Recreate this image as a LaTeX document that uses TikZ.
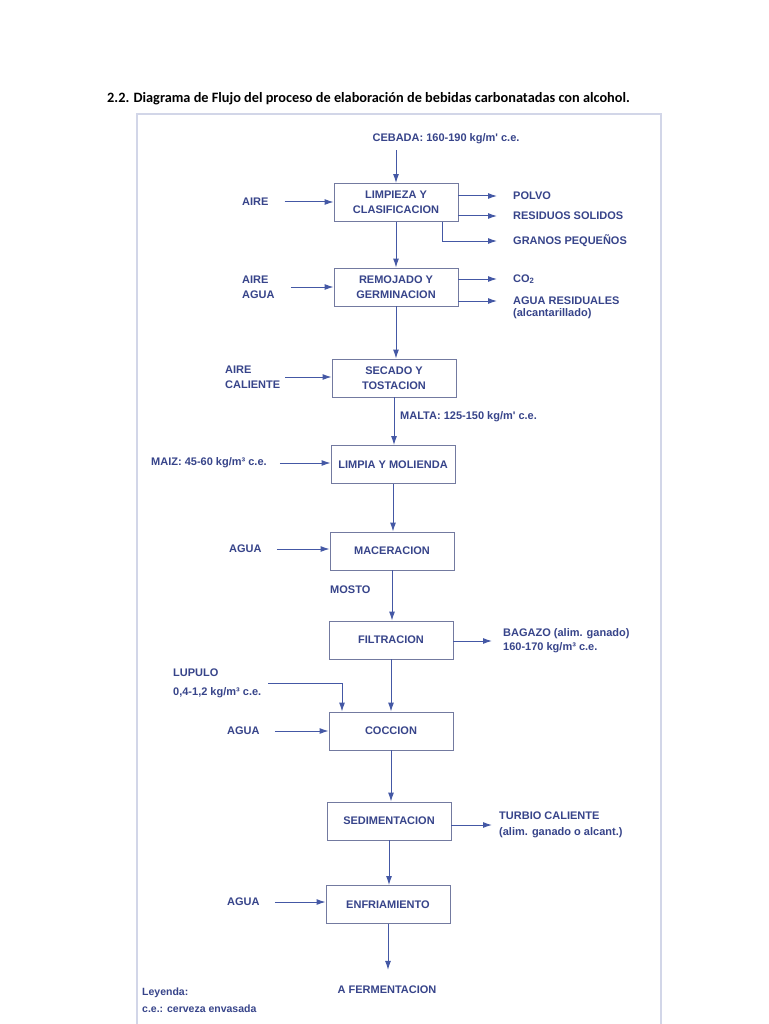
\documentclass[tikz,border=0pt]{standalone}
\usepackage{fontspec}
\setmainfont{Carlito}
\newfontfamily\labfam{Liberation Sans}
\usetikzlibrary{arrows.meta}
\definecolor{txtc}{RGB}{55,68,138}
\definecolor{linec}{RGB}{68,88,165}
\definecolor{boxc}{RGB}{115,122,160}
\definecolor{framec}{RGB}{210,214,232}
\newcommand{\labf}{\labfam\bfseries\fontsize{11}{15}\selectfont}
\tikzset{
  procbox/.style={draw=boxc, line width=0.9pt, minimum width=124pt, minimum height=38pt,
    align=center, font=\labf, text=txtc, inner sep=1pt},
  lbl/.style={inner sep=0pt, font=\labf, text=txtc, align=left},
  arr/.style={draw=linec, line width=1pt, -{Latex[length=9pt,width=6pt]}},
}
\begin{document}
\begin{tikzpicture}[x=1pt,y=-1pt]
\useasboundingbox (0,0) rectangle (768,1024);
\fill[white] (0,0) rectangle (768,1024);
% frame of the scan
\draw[framec, line width=1.5pt] (137,1024) -- (137,114) -- (661,114) -- (661,1024);
% title
\node[anchor=west, inner sep=0pt, font=\bfseries\fontsize{14.3}{16}\selectfont] (title) at (107,99)
  {2.2. Diagrama de Flujo del proceso de elaboración de bebidas carbonatadas con alcohol.};

% process boxes
\node[procbox] (b1) at (396,202.5) {LIMPIEZA Y\\CLASIFICACION};
\node[procbox] (b2) at (396,287) {REMOJADO Y\\GERMINACION};
\node[procbox] (b3) at (394,378) {SECADO Y\\TOSTACION};
\node[procbox] (b4) at (393,464.5) {LIMPIA Y MOLIENDA};
\node[procbox] (b5) at (392,551) {MACERACION};
\node[procbox] (b6) at (391,640) {FILTRACION};
\node[procbox] (b7) at (391,731) {COCCION};
\node[procbox] (b8) at (389,821) {SEDIMENTACION};
\node[procbox] (b9) at (388,904.5) {ENFRIAMIENTO};

% labels
\node[lbl] (cebada) at (446,139) {CEBADA: 160-190 kg/m' c.e.};
\node[lbl, anchor=west] (aire1) at (242,202) {AIRE};
\node[lbl, anchor=west] (aire2) at (242,287) {AIRE\\AGUA};
\node[lbl, anchor=west] (aire3) at (225,377) {AIRE\\CALIENTE};
\node[lbl, anchor=west] (maiz) at (151,463) {MAIZ: 45-60 kg/m³ c.e.};
\node[lbl, anchor=west] (agua5) at (229,549) {AGUA};
\node[lbl, anchor=west, font=\labfam\bfseries\fontsize{11}{19}\selectfont] (lupulo) at (173,683) {LUPULO\\0,4-1,2 kg/m³ c.e.};
\node[lbl, anchor=west] (agua7) at (227,731) {AGUA};
\node[lbl, anchor=west] (agua9) at (227,902) {AGUA};

\node[lbl, anchor=west] (polvo) at (513,196) {POLVO};
\node[lbl, anchor=west] (residuos) at (513,216) {RESIDUOS SOLIDOS};
\node[lbl, anchor=west] (granos) at (513,241) {GRANOS PEQUEÑOS};
\node[lbl, anchor=west] (co2) at (513,279) {CO\textsubscript{2}};
\node[lbl, anchor=west] (aguares) at (513,301) {AGUA RESIDUALES};
\node[lbl, anchor=west] (alcant) at (513,314) {(alcantarillado)};
\node[lbl, anchor=west] (malta) at (400,417) {MALTA: 125-150 kg/m' c.e.};
\node[lbl, anchor=west] (mosto) at (330,590) {MOSTO};
\node[lbl, anchor=west, font=\labfam\bfseries\fontsize{11}{14}\selectfont] (bagazo) at (503,641) {BAGAZO (alim. ganado)\\160-170 kg/m³ c.e.};
\node[lbl, anchor=west, font=\labfam\bfseries\fontsize{11}{16}\selectfont] (turbio) at (499,825) {TURBIO CALIENTE\\(alim. ganado o alcant.)};
\node[lbl] (ferm) at (387,990) {A FERMENTACION};
\node[lbl, anchor=west, font=\labfam\bfseries\fontsize{10.5}{17}\selectfont] (leyenda) at (142,1000) {Leyenda:\\c.e.: cerveza envasada};

% main flow
\draw[arr, shorten <=6pt] (cebada.south -| b1.north) -- (b1.north);
\draw[arr] (b1.south) -- (b1.south |- b2.north);
\draw[arr] (b2.south) -- (b2.south |- b3.north);
\draw[arr] (b3.south) -- (b3.south |- b4.north);
\draw[arr] (b4.south) -- (b4.south |- b5.north);
\draw[arr] (b5.south) -- (b5.south |- b6.north);
\draw[arr] (b6.south) -- (b6.south |- b7.north);
\draw[arr] (b7.south) -- (b7.south |- b8.north);
\draw[arr] (b8.south) -- (b8.south |- b9.north);
\draw[arr, shorten >=16pt] (b9.south) -- (b9.south |- ferm.north);

% inputs
\draw[arr, shorten <=16pt] (aire1.east) -- (aire1.east -| b1.west);
\draw[arr, shorten <=16pt] (aire2.east) -- (aire2.east -| b2.west);
\draw[arr, shorten <=5pt] (aire3.east) -- (aire3.east -| b3.west);
\draw[arr, shorten <=13pt] (maiz.east) -- (maiz.east -| b4.west);
\draw[arr, shorten <=15pt] (agua5.east) -- (agua5.east -| b5.west);
\draw[arr, shorten <=7pt] (lupulo.east) -| ([xshift=-49pt]b7.north);
\draw[arr, shorten <=15pt] (agua7.east) -- (agua7.east -| b7.west);
\draw[arr, shorten <=15pt] (agua9.east) -- (agua9.east -| b9.west);

% outputs
\draw[arr, shorten >=16pt] (b1.east |- polvo) -- (polvo.west);
\draw[arr, shorten >=16pt] (b1.east |- residuos) -- (residuos.west);
\draw[arr, shorten >=16pt] ([xshift=-16pt]b1.south east) |- (granos.west);
\draw[arr, shorten >=16pt] (b2.east |- co2) -- (co2.west);
\draw[arr, shorten >=16pt] (b2.east |- aguares) -- (aguares.west);
\draw[arr, shorten >=11pt] (b6.east |- bagazo) -- (bagazo.west);
\draw[arr, shorten >=7pt] (b8.east |- turbio) -- (turbio.west);
\end{tikzpicture}
\end{document}
